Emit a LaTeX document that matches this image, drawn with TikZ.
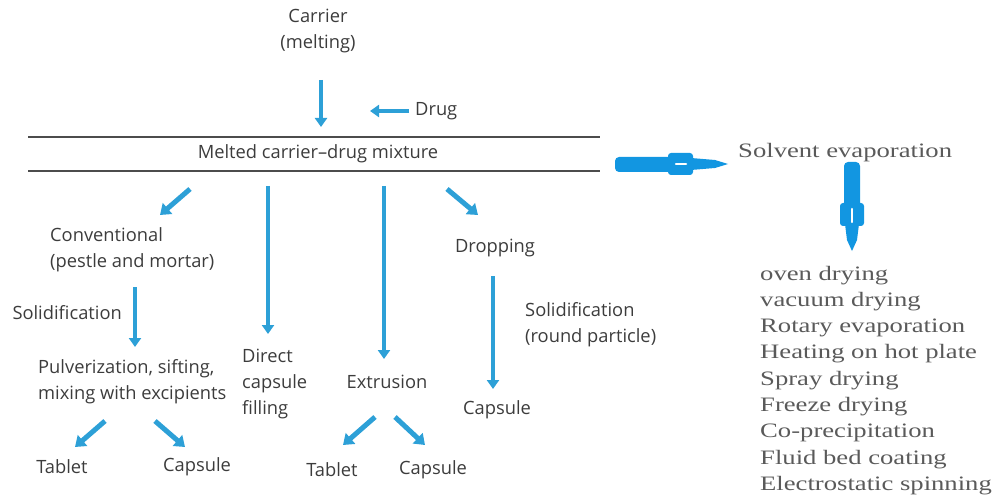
\documentclass[tikz,border=0pt]{standalone}
\usepackage{fontspec}
\setsansfont{Open Sans}
\newfontfamily\listfont[FakeStretch=1.3]{Liberation Serif}
\usetikzlibrary{arrows.meta}

\definecolor{flowblue}{RGB}{45,160,215}
\definecolor{fatblue}{RGB}{18,150,225}
\definecolor{labelgray}{RGB}{60,60,60}
\definecolor{listgray}{RGB}{90,90,90}

\tikzset{
  flow/.style={-{Triangle[width=12pt,length=9pt]}, line width=3.5pt, flowblue},
  slant/.style={-{Triangle[width=14pt,length=10pt]}, line width=5pt, flowblue},
  lbl/.style={font=\sffamily\fontsize{18.3}{26}\selectfont, text=labelgray, inner sep=0pt, align=left},
  lst/.style={font=\listfont\fontsize{20.5}{26}\selectfont, text=listgray, inner sep=0pt},
  rule/.style={line width=1.3pt, black!70}
}

\begin{document}
\begin{tikzpicture}[x=1pt, y=-1pt]
  \useasboundingbox (0,0) rectangle (993,497);

  % Melt stage
  \node[lbl, align=center] (carrier) at (318,31) {Carrier\\(melting)};
  \node[lbl, anchor=west] (drug) at (415,111) {Drug};
  \node[lbl] (mix) at (318,154) {Melted carrier–drug mixture};
  \draw[rule] (28,137) -- (600,137);
  \draw[rule] (28,171) -- (600,171);

  \coordinate (carTail) at (321,80);
  \coordinate (carTip) at (321,127);
  \coordinate (drugTail) at (409,111);
  \coordinate (drugTip) at (370,111);
  \draw[flow] (carTail) -- (carTip);
  \draw[flow] (drugTail) -- (drugTip);

  % Branches below the mixture
  \node[lbl, anchor=west] (conv) at (50,250) {Conventional\\(pestle and mortar)};
  \node[lbl, anchor=east] (solid1) at (122,313) {Solidification};
  \node[lbl, anchor=west] (pulv) at (38,382) {Pulverization, sifting,\\mixing with excipients};
  \node[lbl] (tab1) at (62,467) {Tablet};
  \node[lbl] (cap1) at (197,467) {Capsule};
  \node[lbl, anchor=west] (direct) at (242,384) {Direct\\capsule\\filling};
  \node[lbl] (extr) at (387,382) {Extrusion};
  \node[lbl] (tab2) at (332,470) {Tablet};
  \node[lbl] (cap2) at (433,470) {Capsule};
  \node[lbl] (drop) at (495,248) {Dropping};
  \node[lbl, anchor=west] (solid2) at (525,325) {Solidification\\(round particle)};
  \node[lbl] (cap3) at (497,410) {Capsule};

  \coordinate (convTail) at (190,189);
  \coordinate (convTip) at (160,215);
  \coordinate (dirTail) at (268,186);
  \coordinate (dirTip) at (268,334);
  \coordinate (extTail) at (384,186);
  \coordinate (extTip) at (384,359);
  \coordinate (dropTail) at (447,189);
  \coordinate (dropTip) at (478,215);
  \coordinate (sol1Tail) at (135,287);
  \coordinate (sol1Tip) at (135,347);
  \coordinate (sol2Tail) at (493,276);
  \coordinate (sol2Tip) at (493,389);
  \coordinate (tab1Tail) at (105,421);
  \coordinate (tab1Tip) at (75,447);
  \coordinate (cap1Tail) at (155,421);
  \coordinate (cap1Tip) at (185,447);
  \coordinate (tab2Tail) at (375,417);
  \coordinate (tab2Tip) at (343,445);
  \coordinate (cap2Tail) at (395,417);
  \coordinate (cap2Tip) at (425,445);

  \draw[slant] (convTail) -- (convTip);
  \draw[flow] (dirTail) -- (dirTip);
  \draw[flow] (extTail) -- (extTip);
  \draw[slant] (dropTail) -- (dropTip);
  \draw[flow] (sol1Tail) -- (sol1Tip);
  \draw[flow] (sol2Tail) -- (sol2Tip);
  \draw[slant] (tab1Tail) -- (tab1Tip);
  \draw[slant] (cap1Tail) -- (cap1Tip);
  \draw[slant] (tab2Tail) -- (tab2Tip);
  \draw[slant] (cap2Tail) -- (cap2Tip);

  % Solvent evaporation side
  \fill[fatblue, rounded corners=4pt] (615,157) rectangle (672,172);
  \fill[fatblue, rounded corners=3pt] (668,153) rectangle (693,175);
  \fill[fatblue] (691,158) -- (715,160) -- (728,164) -- (715,168) -- (691,170) -- cycle;
  \draw[white, line width=2.5pt, line cap=round] (676,164) -- (686,164);

  \node[lst, anchor=west] (solvent) at (738,153) {Solvent evaporation};

  \fill[fatblue, rounded corners=4pt] (844,162) rectangle (860,207);
  \fill[fatblue, rounded corners=3pt] (840,203) rectangle (864,226);
  \fill[fatblue] (845,224) -- (847,240) -- (852,251) -- (857,240) -- (859,224) -- cycle;
  \draw[white, line width=2.5pt, line cap=round] (852,209) -- (852,222);

  \foreach \t [count=\i] in {oven drying, vacuum drying, Rotary evaporation,
      Heating on hot plate, Spray drying, Freeze drying, Co-precipitation,
      Fluid bed coating, Electrostatic spinning}
    \node[lst, anchor=base west] (m\i) at (760,{280+26.3*(\i-1)}) {\t};
\end{tikzpicture}
\end{document}
